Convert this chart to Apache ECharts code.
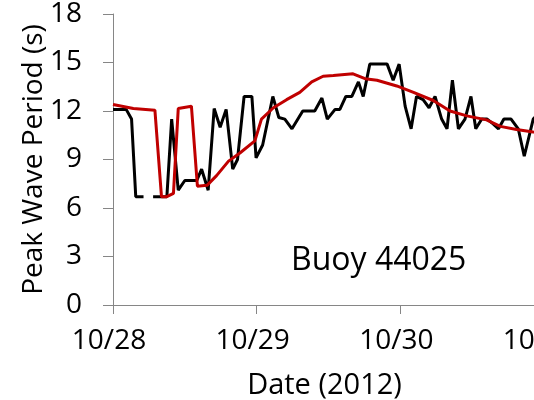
<!DOCTYPE html>
<html>
<head>
<meta charset="utf-8">
<script src="https://cdn.jsdelivr.net/npm/echarts@6/dist/echarts.min.js"></script>
<style>
    html, body { margin: 0; padding: 0; overflow: hidden; background: #fff; }
    #chart { width: 620px; height: 400px; }
</style>
</head>
<body>
<div id="chart"></div>
<script>
// hours since 10/28 00:00
const dayLabels = ["10/28", "10/29", "10/30", "10/31"];

const observedHours = [0, 2.2, 3.1, 3.8, 5.1, 5.9, 6.7, 9.0, 9.8, 10.9, 12.0, 14.0, 14.8, 15.9, 16.9, 17.9, 18.9, 20.0, 20.8, 21.9, 23.2, 23.9, 25.0, 26.7, 27.7, 28.7, 29.9, 31.7, 33.7, 34.9, 35.8, 37.1, 37.9, 38.9, 39.9, 41.0, 41.8, 42.9, 45.8, 46.8, 47.8, 48.8, 49.8, 50.7, 51.8, 52.8, 53.8, 54.9, 55.8, 56.7, 57.7, 58.8, 59.8, 60.6, 61.6, 62.5, 63.5, 64.4, 65.3, 66.5, 67.7, 68.7, 70.2, 71.5];
const observedValues = [12.1, 12.1, 11.5, 6.7, 6.7, null, 6.7, 6.7, 11.5, 7.1, 7.7, 7.7, 8.4, 7.1, 12.15, 11.0, 12.1, 8.4, 9.0, 12.9, 12.9, 9.1, 9.9, 12.9, 11.6, 11.5, 10.9, 12.0, 12.0, 12.8, 11.5, 12.1, 12.1, 12.9, 12.9, 13.8, 12.9, 14.9, 14.9, 13.9, 14.9, 12.3, 10.9, 12.9, 12.7, 12.2, 12.9, 11.5, 10.9, 13.9, 10.9, 11.5, 12.9, 10.9, 11.5, 11.5, 11.2, 10.9, 11.5, 11.5, 10.9, 9.2, 11.5, 12.0];

const modelHours = [0, 3.4, 7.0, 8.1, 9.0, 10.1, 10.9, 13.1, 14.1, 15.7, 17.3, 19.3, 21.2, 23.7, 24.8, 26.8, 29.0, 31.2, 33.2, 35.1, 36.8, 40.1, 42.1, 44.1, 47.4, 50.2, 53.5, 56.3, 59.1, 62.4, 64.7, 67.4, 70.2, 72];
const modelValues = [12.4, 12.15, 12.05, 6.7, 6.7, 6.9, 12.15, 12.3, 7.35, 7.4, 8.0, 8.9, 9.4, 10.15, 11.5, 12.2, 12.7, 13.15, 13.8, 14.15, 14.2, 14.3, 14.0, 13.9, 13.55, 13.15, 12.65, 12.0, 11.7, 11.45, 11.05, 10.85, 10.7, 10.65];

const font = "'Open Sans', sans-serif";
const axisGray = "#868686";

const chart = echarts.init(document.getElementById("chart"));

chart.setOption({
    animation: false,
    grid: {
        left: 113,
        right: 76,
        top: 14,
        bottom: 95,
        outerBoundsMode: "none",
        containLabel: false
    },
    xAxis: {
        type: "value",
        min: 0,
        max: 72,
        interval: 24,
        name: "Date (2012)",
        nameLocation: "middle",
        nameGap: 66,
        nameMoveOverlap: false,
        nameTextStyle: { fontFamily: font, fontSize: 29, color: "#000", padding: [0, 8, 0, 0] },
        axisLine: { show: true, lineStyle: { color: axisGray, width: 1 } },
        axisTick: { show: true, length: 9, lineStyle: { color: axisGray } },
        splitLine: { show: false },
        axisLabel: {
            fontFamily: font,
            fontSize: 28,
            color: "#000",
            margin: 22,
            padding: [0, 8, 0, 0],
            showMaxLabel: true,
            formatter: v => dayLabels[Math.round(v / 24)]
        }
    },
    yAxis: {
        type: "value",
        min: 0,
        max: 18,
        interval: 3,
        name: "Peak Wave Period (s)",
        nameLocation: "middle",
        nameRotate: 90,
        nameGap: 65,
        nameMoveOverlap: false,
        nameTextStyle: { fontFamily: font, fontSize: 28, color: "#000" },
        axisLine: { show: true, lineStyle: { color: axisGray, width: 1 } },
        axisTick: { show: true, length: 10, lineStyle: { color: axisGray } },
        splitLine: { show: false },
        axisLabel: {
            fontFamily: font,
            fontSize: 28,
            color: "#000",
            margin: 31
        }
    },
    graphic: [
        {
            type: "text",
            left: 291,
            top: 245,
            style: {
                text: "Buoy 44025",
                font: "32px 'Open Sans', sans-serif",
                fill: "#000"
            }
        }
    ],
    series: [
        {
            name: "Observed",
            type: "line",
            data: observedHours.map((h, i) => [h, observedValues[i]]),
            showSymbol: false,
            connectNulls: false,
            lineStyle: { color: "#000", width: 3 },
            itemStyle: { color: "#000" }
        },
        {
            name: "Model",
            type: "line",
            data: modelHours.map((h, i) => [h, modelValues[i]]),
            showSymbol: false,
            lineStyle: { color: "#c00000", width: 3 },
            itemStyle: { color: "#c00000" }
        }
    ]
});
</script>
</body>
</html>
